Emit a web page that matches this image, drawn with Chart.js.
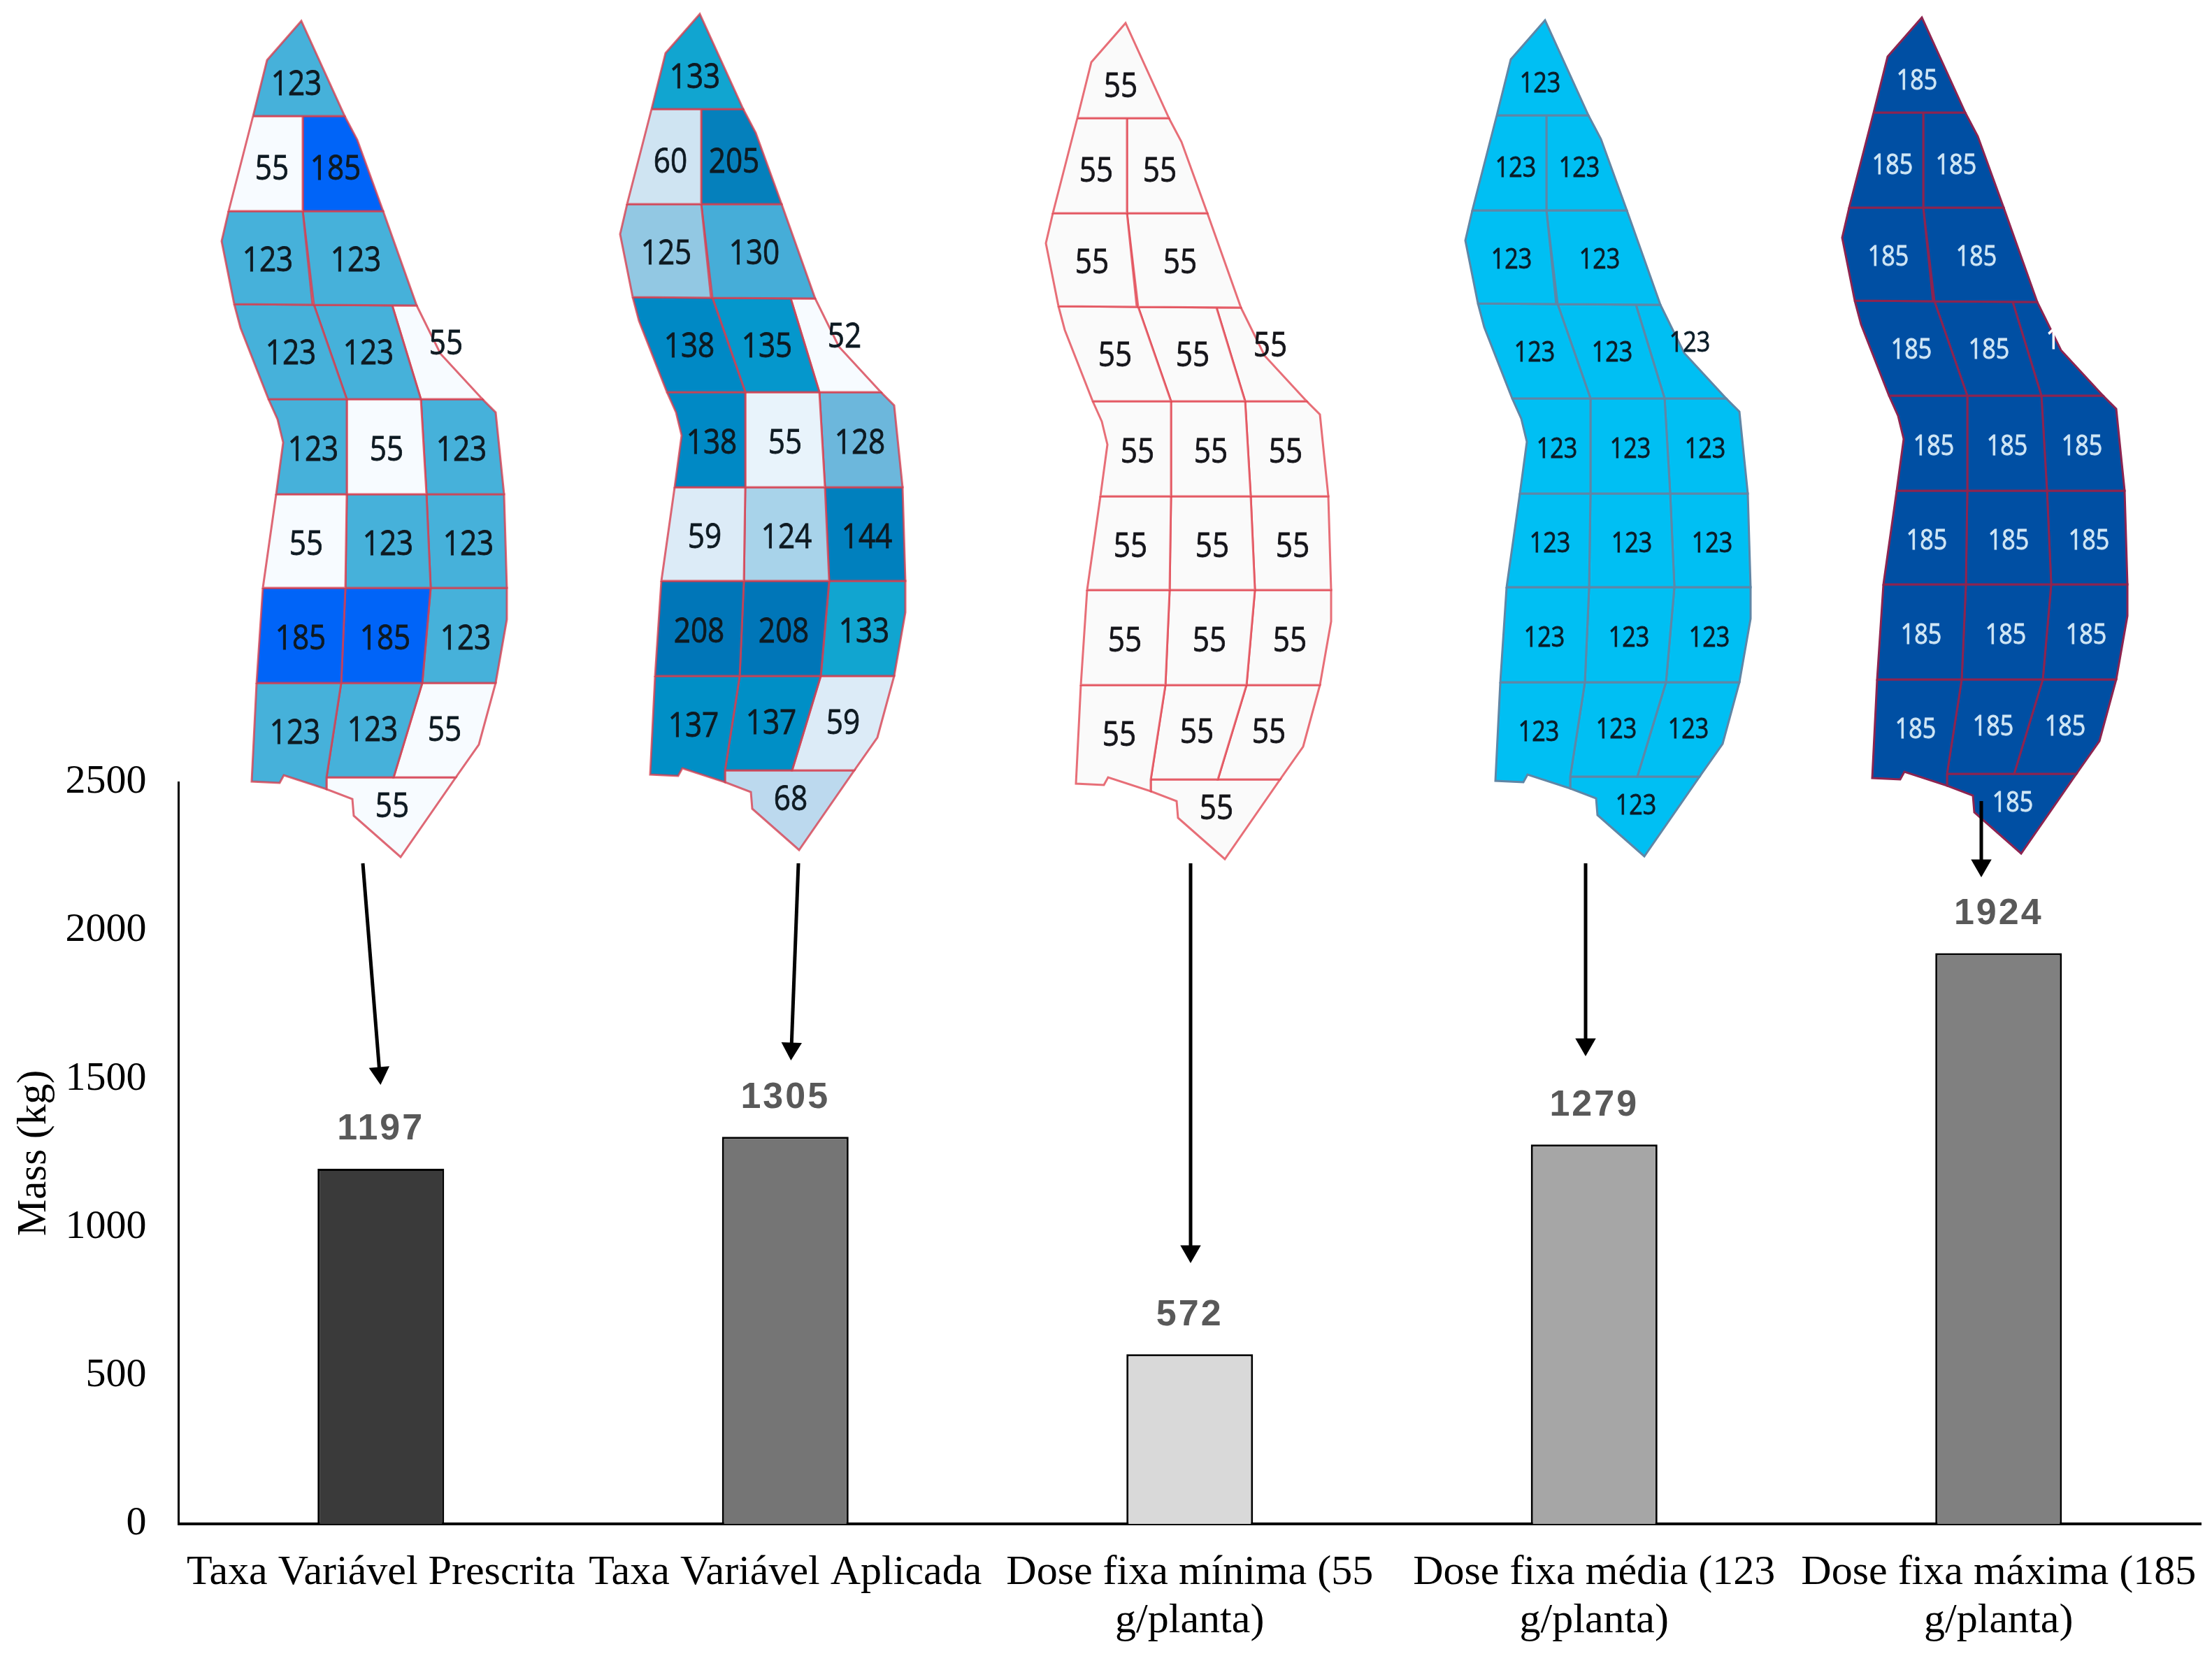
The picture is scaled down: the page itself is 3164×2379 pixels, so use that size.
<!DOCTYPE html>
<html>
<head>
<meta charset="utf-8">
<style>
html,body{margin:0;padding:0;background:#fff}
#wrap{position:relative;width:3164px;height:2379px}
canvas{position:absolute;left:0;top:0}
</style>
<script src="https://cdn.jsdelivr.net/npm/chart.js@4"></script>
</head>
<body>
<div id="wrap">
<canvas id="bars" width="3164" height="2379"></canvas>
<canvas id="maps" width="3164" height="2379"></canvas>
</div>
<script>
// ---- bar chart data ----
const categories = [
  'Taxa Variável Prescrita',
  'Taxa Variável Aplicada',
  ['Dose fixa mínima (55', 'g/planta)'],
  ['Dose fixa média (123', 'g/planta)'],
  ['Dose fixa máxima (185', 'g/planta)']
];
const massKg = [1197, 1305, 572, 1279, 1924];
const barColors = ['#3a3a3a', '#757575', '#d9d9d9', '#a6a6a6', '#808080'];
const massTicks = [0, 500, 1000, 1500, 2000, 2500];

// ---- field map data: doses (g/planta) per management cell ----
const dosePrescribed = [123, 55, 185, 123, 123, 123, 123, 55, 123, 55, 123, 55, 123, 123, 185, 185, 123, 123, 123, 55, 55];
const doseApplied    = [133, 60, 205, 125, 130, 138, 135, 52, 138, 55, 128, 59, 124, 144, 208, 208, 133, 137, 137, 59, 68];
const doseMin        = [55, 55, 55, 55, 55, 55, 55, 55, 55, 55, 55, 55, 55, 55, 55, 55, 55, 55, 55, 55, 55];
const doseMean       = [123, 123, 123, 123, 123, 123, 123, 123, 123, 123, 123, 123, 123, 123, 123, 123, 123, 123, 123, 123, 123];
const doseMax        = [185, 185, 185, 185, 185, 185, 185, 185, 185, 185, 185, 185, 185, 185, 185, 185, 185, 185, 185, 185, 185];

// field cell outlines, in field coordinates
const cellOutlines = [
  [[362,166],[382,86],[431,30],[493,166]],
  [[362,166],[433,166],[433,302],[327,302]],
  [[433,166],[493,166],[511,200],[548,302],[433,302]],
  [[327,302],[433,302],[447,436],[335,435],[317,345]],
  [[433,302],[548,302],[596,437],[449,436]],
  [[335,435],[449,436],[496,571],[384,571],[344,469]],
  [[449,436],[561,437],[602,571],[496,571]],
  [[561,437],[596,437],[630,506],[690,571],[602,571]],
  [[384,571],[496,571],[496,707],[395,707],[405,633],[397,600]],
  [[496,571],[602,571],[610,707],[496,707]],
  [[602,571],[690,571],[709,590],[721,707],[610,707]],
  [[395,707],[496,707],[494,841],[376,841]],
  [[496,707],[610,707],[616,841],[494,841]],
  [[610,707],[721,707],[725,841],[616,841]],
  [[376,841],[494,841],[488,977],[367,977]],
  [[494,841],[616,841],[604,977],[488,977]],
  [[616,841],[725,841],[725,886],[709,977],[604,977]],
  [[367,977],[488,977],[467,1112],[467,1129],[406,1109],[400,1120],[360,1118]],
  [[488,977],[604,977],[563,1112],[467,1112]],
  [[604,977],[709,977],[685,1065],[652,1112],[563,1112]],
  [[467,1112],[652,1112],[573,1226],[506,1167],[504,1143],[467,1129]]
];
const cellLabelAnchors = [
  [424,122],[389,243],[480,243],[383,374],[509,374],[416,507],[527,507],[638,493],
  [448,645],[553,645],[660,645],[438,780],[555,780],[670,780],
  [430,915],[551,915],[666,915],[422,1050],[533,1046],[636,1046],[561,1155]
];
const mapShiftX = [0, 570, 1179, 1779, 2318];
const mapShiftY = [0, -10, 3, -1, -5];

// arrows from each map to its bar: [startX, startY, endX, endY]
const arrowPaths = [
  [519, 1235, 543, 1535],
  [1142, 1235, 1132, 1500],
  [1703, 1235, 1703, 1790],
  [2268, 1235, 2268, 1494],
  [2834, 1146, 2834, 1238]
];

// ---- styles per map ----
const doseColorsPrescribed = {55:'#f7fbff', 123:'#46b1da', 185:'#0064f8'};
const doseColorsApplied = {52:'#f7fbff',55:'#e8f3fb',59:'#dcebf7',60:'#cfe4f2',68:'#bcd9ee',124:'#a8d3ea',125:'#92c8e3',
  128:'#6cb7dc',130:'#46add8',133:'#11a5d0',135:'#0597cc',137:'#008fc6',138:'#0089c5',144:'#0080be',205:'#0580bc',208:'#0076b8'};
const mapStyles = [
  {doses:dosePrescribed, colors:doseColorsPrescribed, line:'rgba(214,62,78,.78)', text:'#0e1a22', font:46},
  {doses:doseApplied,    colors:doseColorsApplied,    line:'rgba(214,62,78,.78)', text:'#0e1a22', font:46},
  {doses:doseMin,        colors:{55:'#fafafa'},       line:'rgba(226,70,82,.78)', text:'#15151a', font:46},
  {doses:doseMean,       colors:{123:'#00bff3'},      line:'#5f86a6',             text:'#0a1c28', font:37},
  {doses:doseMax,        colors:{185:'#004fa3'},      line:'#8d2450',             text:'#cfe6f5', font:37}
];

const SERIF = '"Liberation Serif","Times New Roman",serif';

// ---- bars ----
const barValueLabels = {
  id: 'barValueLabels',
  afterDatasetsDraw(chart) {
    const ctx = chart.ctx, meta = chart.getDatasetMeta(0);
    ctx.save();
    ctx.font = 'bold 52px "Liberation Sans",Arial,sans-serif';
    ctx.letterSpacing = '3px';
    ctx.fillStyle = '#595959';
    ctx.textAlign = 'center';
    ctx.textBaseline = 'middle';
    meta.data.forEach((bar, i) => ctx.fillText(String(massKg[i]), bar.x, bar.y - 56));
    ctx.restore();
  }
};

new Chart(document.getElementById('bars'), {
  type: 'bar',
  data: {
    labels: categories,
    datasets: [{
      data: massKg,
      backgroundColor: barColors,
      borderColor: '#000',
      borderWidth: 3,
      barPercentage: 0.313,
      categoryPercentage: 1
    }]
  },
  options: {
    responsive: false,
    animation: false,
    layout: {padding: {top: 1119, right: 16, left: 0, bottom: 0}},
    plugins: {legend: {display: false}, tooltip: {enabled: false}},
    scales: {
      x: {
        grid: {display: false, drawTicks: false},
        border: {color: '#000', width: 4},
        ticks: {color: '#000', font: {family: SERIF, size: 60, lineHeight: 1.15}, padding: 36, autoSkip: false, maxRotation: 0, minRotation: 0},
        afterFit(s) { s.height = 199; s.paddingLeft = 0; s.paddingRight = 0; }
      },
      y: {
        min: 0, max: 2500,
        afterBuildTicks(s) { s.ticks = massTicks.map(v => ({value: v})); },
        grid: {display: false, drawTicks: false},
        border: {color: '#000', width: 3},
        ticks: {color: '#000', font: {family: SERIF, size: 58}, padding: 46, callback: v => String(v)},
        title: {display: true, text: 'Mass (kg)', color: '#000', font: {family: SERIF, size: 59}, padding: {top: 14, bottom: 0}},
        afterFit(s) { s.width = 255.5; }
      }
    }
  },
  plugins: [barValueLabels]
});

// ---- maps and arrows, on field-coordinate scales ----
const mapDatasets = [];
const arrowDatasets = arrowPaths.map(([x0, y0, x1, y1]) => ({
  data: [{x: x0, y: y0}, {x: x1, y: y1}],
  showLine: true, fill: false,
  borderColor: '#000', borderWidth: 5,
  backgroundColor: '#000',
  pointBackgroundColor: '#000', pointBorderWidth: 0,
  pointStyle: 'triangle',
  pointRadius: [0, 17],
  pointRotation: [0, Math.atan2(x1 - x0, -(y1 - y0)) * 180 / Math.PI]
}));
mapStyles.forEach((style, m) => {
  cellOutlines.forEach((outline, c) => {
    const pts = outline.concat([outline[0]]).map(p => ({x: p[0] + mapShiftX[m], y: p[1] + mapShiftY[m]}));
    mapDatasets.push({
      data: pts,
      showLine: true,
      fill: 'shape',
      tension: 0,
      backgroundColor: style.colors[style.doses[c]],
      borderColor: style.line,
      borderWidth: 3,
      pointRadius: 0
    });
  });
});

const cellLabels = {
  id: 'cellLabels',
  afterDatasetsDraw(chart) {
    const ctx = chart.ctx, sx = chart.scales.x, sy = chart.scales.y;
    ctx.save();
    ctx.textAlign = 'center';
    ctx.textBaseline = 'middle';
    ctx.lineWidth = 0.8;
    mapStyles.forEach((style, m) => {
      ctx.font = style.font + 'px "Open Sans",Roboto,sans-serif';
      style.doses.forEach((dose, c) => {
        // the label of cell 7 on the last map falls mostly outside the dark cell
        const color = (m === 4 && c === 7) ? '#ffffff' : style.text;
        ctx.fillStyle = color;
        ctx.strokeStyle = color;
        const a = cellLabelAnchors[c];
        ctx.save();
        ctx.translate(sx.getPixelForValue(a[0] + mapShiftX[m]), sy.getPixelForValue(a[1] + mapShiftY[m]));
        ctx.scale(0.92, 1.08);
        ctx.fillText(String(dose), 0, 0);
        ctx.strokeText(String(dose), 0, 0);
        ctx.restore();
      });
    });
    ctx.restore();
  }
};

new Chart(document.getElementById('maps'), {
  type: 'scatter',
  data: {datasets: arrowDatasets.concat(mapDatasets)},
  options: {
    responsive: false,
    animation: false,
    layout: {padding: 0, autoPadding: false},
    plugins: {legend: {display: false}, tooltip: {enabled: false}},
    scales: {
      x: {type: 'linear', display: false, min: 0, max: 3164},
      y: {type: 'linear', display: false, min: 0, max: 2379, reverse: true}
    }
  },
  plugins: [cellLabels]
});
</script>
</body>
</html>
